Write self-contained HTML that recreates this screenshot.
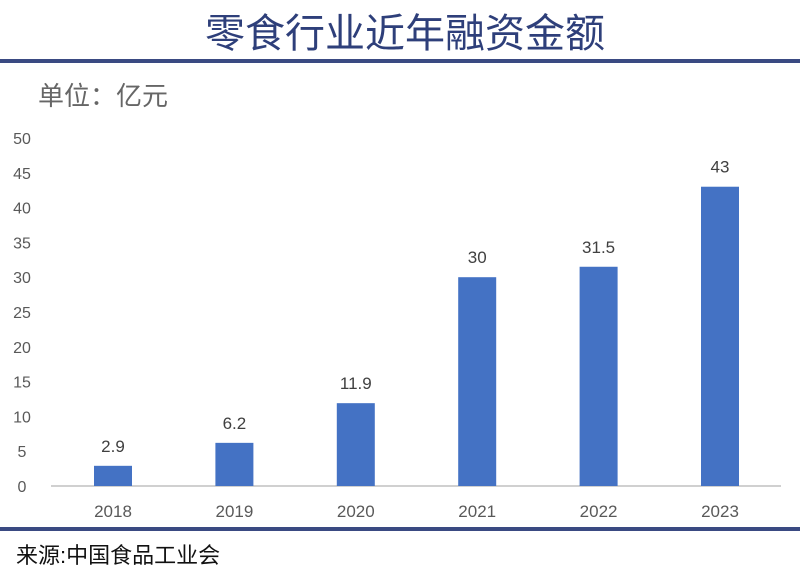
<!DOCTYPE html>
<html><head><meta charset="utf-8"><style>
body{margin:0;background:#fff;}
svg{display:block;font-family:"Liberation Sans","Noto Sans CJK SC",sans-serif;}
</style></head><body>
<svg width="800" height="577" viewBox="0 0 800 577">
<text x="405" y="47" text-anchor="middle" font-size="40" fill="#2e3f7a">零食行业近年融资金额</text>
<rect x="0" y="59" width="800" height="4" fill="#3a4a82"/>
<text x="38" y="105" font-size="26" fill="#666">单位：亿元</text>
<g id="yaxis"></g>
<line x1="51" y1="486" x2="781" y2="486" stroke="#d0d0d0" stroke-width="2"/>
<g id="bars"></g>
<rect x="0" y="527" width="800" height="4" fill="#3a4a82"/>
<text x="16" y="563" font-size="22" fill="#111">来源:中国食品工业会</text>
</svg>
<script>
const categories=["2018","2019","2020","2021","2022","2023"];
const values=[2.9,6.2,11.9,30,31.5,43];
const valueLabels=["2.9","6.2","11.9","30","31.5","43"];
const yTicks=[0,5,10,15,20,25,30,35,40,45,50];
const NS="http://www.w3.org/2000/svg";
function y(v){return 486-v*(348/50);}
function x(i){return 113+i*121.4;}
const ya=document.getElementById('yaxis');
yTicks.forEach(t=>{
 const e=document.createElementNS(NS,'text');
 
 
 e.setAttribute('x',22);e.setAttribute('y',y(t)+6);
 e.setAttribute('text-anchor','middle');e.setAttribute('font-size','16');e.setAttribute('fill','#595959');
 e.textContent=t;ya.appendChild(e);
});
const g=document.getElementById('bars');
categories.forEach((c,i)=>{
 const r=document.createElementNS(NS,'rect');
 
 
 r.setAttribute('x',x(i)-19);r.setAttribute('width',38);
 r.setAttribute('y',y(values[i]));r.setAttribute('height',486-y(values[i]));
 r.setAttribute('fill','#4472c4');g.appendChild(r);
 const l=document.createElementNS(NS,'text');
 
 
 l.setAttribute('x',x(i));l.setAttribute('y',y(values[i])-14);
 l.setAttribute('text-anchor','middle');l.setAttribute('font-size','17');l.setAttribute('fill','#404040');
 l.textContent=valueLabels[i];g.appendChild(l);
 const t=document.createElementNS(NS,'text');
 
 
 t.setAttribute('x',x(i));t.setAttribute('y',517);
 t.setAttribute('text-anchor','middle');t.setAttribute('font-size','17');t.setAttribute('fill','#595959');
 t.textContent=c;g.appendChild(t);
});
</script>
</body></html>
